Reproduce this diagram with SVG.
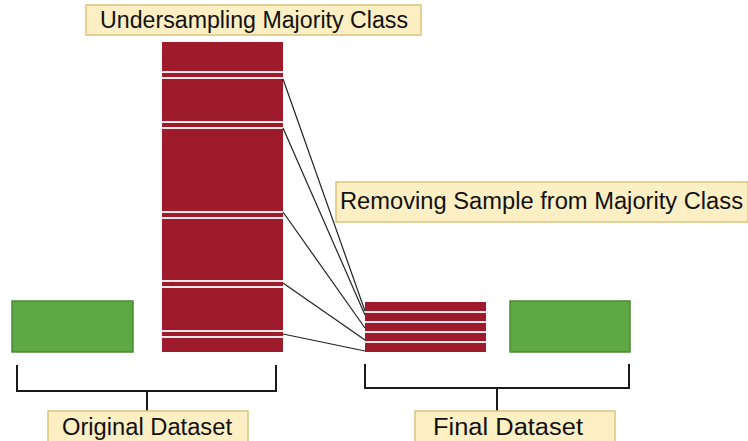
<svg xmlns="http://www.w3.org/2000/svg" width="748" height="441" viewBox="0 0 748 441">
<style>
.lbl{fill:#fcefc4;stroke:#dcc47c;stroke-width:1.5}
.txt{font-family:"Liberation Sans",Arial,sans-serif;font-size:23px;fill:#111}
.red{fill:#9e1b2b}
.wl{stroke:#f6e6ea;stroke-width:2}
.grn{fill:#5ea944;stroke:#4a8a33;stroke-width:1.5}
.br{fill:none;stroke:#1a1a1a;stroke-width:2}
.cn{stroke:#222;stroke-width:1.2;fill:none}
</style>
<rect width="748" height="441" fill="#fff"/>
<g id="label-undersampling">
<rect class="lbl" x="86" y="5" width="335" height="30"/>
<text class="txt" x="100" y="28" textLength="308" lengthAdjust="spacingAndGlyphs">Undersampling Majority Class</text>
</g>
<g id="label-removing">
<rect class="lbl" x="336" y="182" width="412" height="40"/>
<text class="txt" x="340" y="209" textLength="403" lengthAdjust="spacingAndGlyphs">Removing Sample from Majority Class</text>
</g>
<g id="majority-bar">
<rect class="red" x="162" y="42" width="121" height="310"/>
<line class="wl" x1="162" y1="72" x2="283" y2="72"/>
<line class="wl" x1="162" y1="78" x2="283" y2="78"/>
<line class="wl" x1="162" y1="122" x2="283" y2="122"/>
<line class="wl" x1="162" y1="128" x2="283" y2="128"/>
<line class="wl" x1="162" y1="212" x2="283" y2="212"/>
<line class="wl" x1="162" y1="218" x2="283" y2="218"/>
<line class="wl" x1="162" y1="281" x2="283" y2="281"/>
<line class="wl" x1="162" y1="287" x2="283" y2="287"/>
<line class="wl" x1="162" y1="331" x2="283" y2="331"/>
<line class="wl" x1="162" y1="337" x2="283" y2="337"/>
</g>
<g id="minority-original">
<rect class="grn" x="12" y="301" width="121" height="51"/>
</g>
<g id="reduced-majority">
<rect class="red" x="365" y="302" width="121" height="50"/>
<line class="wl" x1="365" y1="312" x2="486" y2="312"/>
<line class="wl" x1="365" y1="322" x2="486" y2="322"/>
<line class="wl" x1="365" y1="332" x2="486" y2="332"/>
<line class="wl" x1="365" y1="342" x2="486" y2="342"/>
</g>
<g id="minority-final">
<rect class="grn" x="510" y="301" width="120" height="51"/>
</g>
<g id="connectors">
<line class="cn" x1="283" y1="79" x2="365" y2="311"/>
<line class="cn" x1="283" y1="128" x2="365" y2="315"/>
<line class="cn" x1="283" y1="212" x2="365" y2="328"/>
<line class="cn" x1="283" y1="283" x2="365" y2="340"/>
<line class="cn" x1="283" y1="334" x2="365" y2="351"/>
<path class="br" d="M17 365 V391 H276 V365 M147 391 V412"/>
<path class="br" d="M365 364 V388 H629 V364 M497 388 V412"/>
</g>
<g id="label-original">
<rect class="lbl" x="48" y="411" width="200" height="32"/>
<text class="txt" x="62" y="435" textLength="170" lengthAdjust="spacingAndGlyphs">Original Dataset</text>
</g>
<g id="label-final">
<rect class="lbl" x="415" y="411" width="200" height="32"/>
<text class="txt" x="433" y="435" textLength="150" lengthAdjust="spacingAndGlyphs">Final Dataset</text>
</g>
</svg>
